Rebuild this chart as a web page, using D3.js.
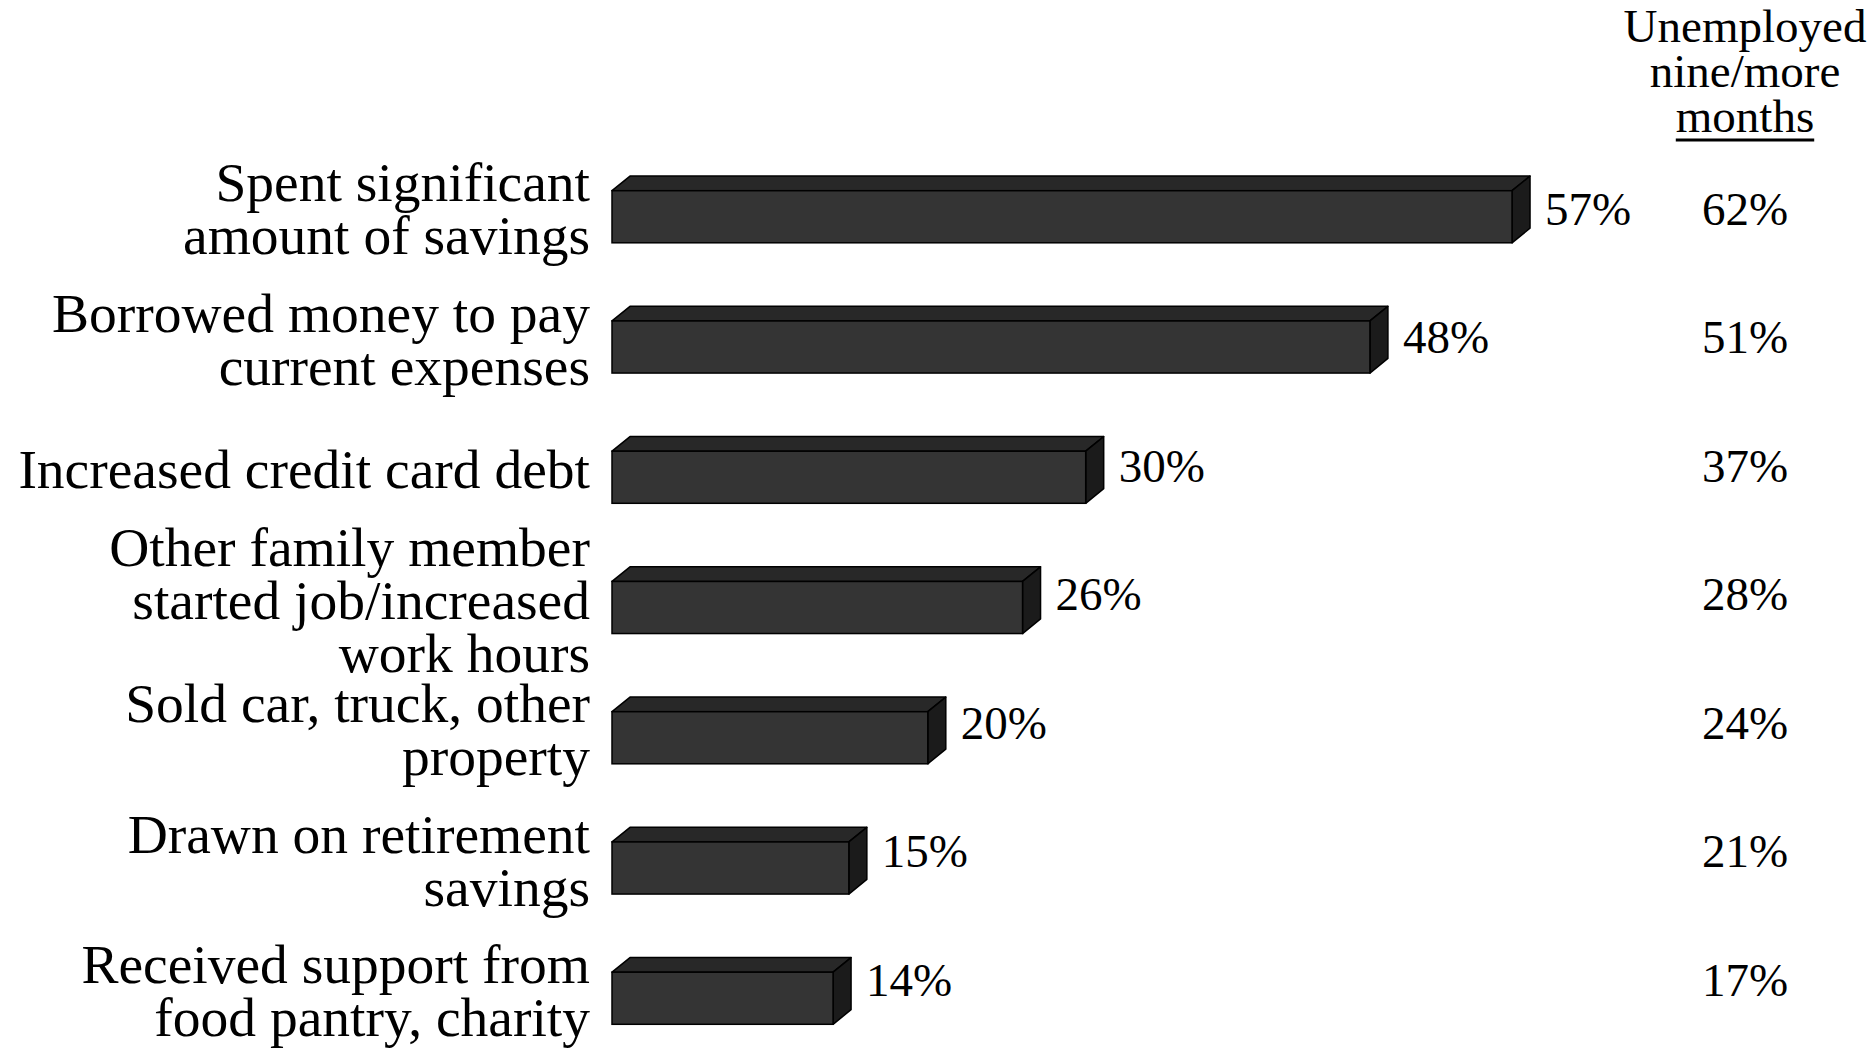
<!DOCTYPE html>
<html>
<head>
<meta charset="utf-8">
<script src="https://cdn.jsdelivr.net/npm/d3@7"></script>
<style>
  html, body { margin: 0; padding: 0; background: #fff; }
  svg { display: block; }
  text { font-family: "Liberation Serif", "Times New Roman", serif; fill: #000; }
</style>
</head>
<body>
<svg id="chart"></svg>
<script>
// actions taken, all respondents vs. unemployed nine/more months
var categories = [
  ["Spent significant", "amount of savings"],
  ["Borrowed money to pay", "current expenses"],
  ["Increased credit card debt"],
  ["Other family member", "started job/increased", "work hours"],
  ["Sold car, truck, other", "property"],
  ["Drawn on retirement", "savings"],
  ["Received support from", "food pantry, charity"]
];
var allValues = [57, 48, 30, 26, 20, 15, 14];
var longTermValues = [62, 51, 37, 28, 24, 21, 17];
var headerLines = ["Unemployed", "nine/more", "months"];

var WIDTH = 1876, HEIGHT = 1052;
var DX = 18, DY = -14.6;   // 3d depth of the bars

var svg = d3.select("#chart")
  .attr("width", WIDTH)
  .attr("height", HEIGHT);

var ids = categories.map(function(d, i) { return i; });

var x = d3.scaleLinear().domain([0, 60]).range([612, 612 + 60 * 15.79]);
var y = d3.scaleBand().domain(ids).range([190.7, 1024.3]).paddingInner(0.6).paddingOuter(0);
// text rows (values and right column)
var yText = d3.scalePoint().domain(ids).range([209, 980]);

var bars = svg.append("g").attr("class", "bars")
  .selectAll("g").data(allValues).enter().append("g");

function topFace(d, i) {
  var x0 = x(0), x1 = x(d), y0 = y(i);
  return "M" + x0 + "," + y0 + "L" + (x0 + DX) + "," + (y0 + DY) +
    "L" + (x1 + DX) + "," + (y0 + DY) + "L" + x1 + "," + y0 + "Z";
}
function sideFace(d, i) {
  var x1 = x(d), y0 = y(i), y1 = y(i) + y.bandwidth();
  return "M" + x1 + "," + y0 + "L" + (x1 + DX) + "," + (y0 + DY) +
    "L" + (x1 + DX) + "," + (y1 + DY) + "L" + x1 + "," + y1 + "Z";
}

bars.append("path")
  .attr("d", topFace)
  .style("fill", "#282828")
  .style("stroke", "#000")
  .style("stroke-width", 1.5)
  .style("stroke-linejoin", "round");
bars.append("path")
  .attr("d", sideFace)
  .style("fill", "#1b1b1b")
  .style("stroke", "#000")
  .style("stroke-width", 1.5)
  .style("stroke-linejoin", "round");
bars.append("rect")
  .attr("x", x(0))
  .attr("y", function(d, i) { return y(i); })
  .attr("width", function(d) { return x(d) - x(0); })
  .attr("height", y.bandwidth())
  .style("fill", "#343434")
  .style("stroke", "#000")
  .style("stroke-width", 1.5);

// value labels next to the bars
svg.append("g").selectAll("text").data(allValues).enter().append("text")
  .attr("x", function(d) { return x(d) + DX + 15; })
  .attr("y", function(d, i) { return yText(i); })
  .attr("dy", "0.34em")
  .style("font-size", "47px")
  .text(function(d) { return d + "%"; });

// category labels
var LINE = 53, CAT_SIZE = 55.5;
var catLabels = svg.append("g").selectAll("text").data(categories).enter().append("text")
  .attr("text-anchor", "end")
  .style("font-size", CAT_SIZE + "px");
catLabels.each(function(lines, i) {
  var cy = y(i) + y.bandwidth() / 2 + DY / 2;
  var first = cy - (lines.length - 1) * LINE / 2 + 0.331 * CAT_SIZE;
  d3.select(this).selectAll("tspan").data(lines).enter().append("tspan")
    .attr("x", 590)
    .attr("y", function(l, j) { return first + j * LINE; })
    .text(function(l) { return l; });
});

// right column
var COL_X = 1745;
var header = svg.append("g").selectAll("text").data(headerLines).enter().append("text")
  .attr("x", COL_X)
  .attr("y", function(d, i) { return 42 + i * 45; })
  .attr("text-anchor", "middle")
  .style("font-size", "47px")
  .text(function(d) { return d; });
var lastBox = header.filter(function(d, i) { return i === headerLines.length - 1; }).node().getBBox();
svg.append("line")
  .attr("x1", lastBox.x).attr("x2", lastBox.x + lastBox.width)
  .attr("y1", 140).attr("y2", 140)
  .style("stroke", "#000").style("stroke-width", 3);

svg.append("g").selectAll("text").data(longTermValues).enter().append("text")
  .attr("x", COL_X)
  .attr("y", function(d, i) { return yText(i); })
  .attr("dy", "0.34em")
  .attr("text-anchor", "middle")
  .style("font-size", "47px")
  .text(function(d) { return d + "%"; });
</script>
</body>
</html>
